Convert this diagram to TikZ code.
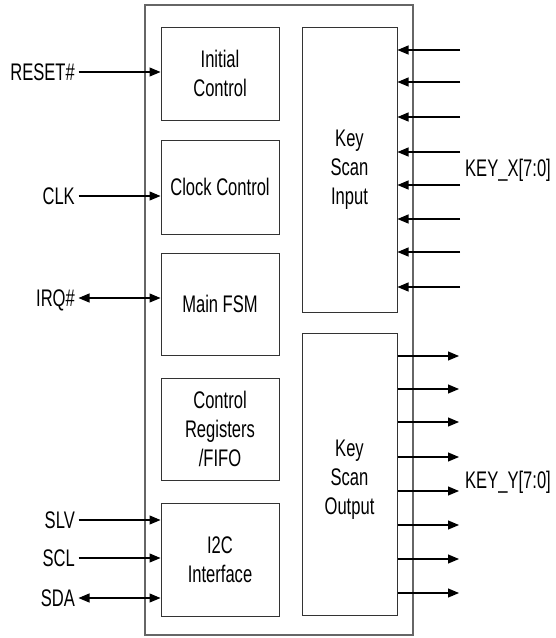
\documentclass[tikz,border=0pt]{standalone}
\usepackage{fontspec}
\setmainfont{Liberation Sans}[FakeStretch=0.69]
\usetikzlibrary{arrows.meta}
\begin{document}
\begin{tikzpicture}[x=1pt,y=-1pt,
  blk/.style={draw=black!80,line width=1pt,inner sep=0pt,align=center,font=\fontsize{24}{29}\selectfont},
  outerbox/.style={draw=black!60,line width=1.2pt,inner sep=0pt},
  lbl/.style={font=\fontsize{24}{29}\selectfont,inner sep=3.5pt,text height=17.2pt,text depth=0pt},
  arr/.style={line width=1.1pt,-{Triangle[length=11pt,width=9pt]}},
  biarr/.style={line width=1.1pt,{Triangle[length=11pt,width=9pt]}-{Triangle[length=11pt,width=9pt]}}]
\useasboundingbox (0,0) rectangle (555,638);
\node[outerbox,minimum width=268pt,minimum height=630pt] (chip) at (279,320) {};
\node[blk,minimum width=118pt,minimum height=93pt] (init) at (220,73.5) {Initial\\Control};
\node[blk,minimum width=118pt,minimum height=94pt] (clk) at (220,187) {Clock Control};
\node[blk,minimum width=118pt,minimum height=102pt] (fsm) at (220,304) {Main FSM};
\node[blk,minimum width=118pt,minimum height=102pt] (reg) at (220,429) {Control\\Registers\\/FIFO};
\node[blk,minimum width=118pt,minimum height=113pt] (i2c) at (220,559.5) {I2C\\Interface};
\node[blk,minimum width=95pt,minimum height=285pt] (ksi) at (349.5,169.5) {Key\\Scan\\Input};
\node[blk,minimum width=95pt,minimum height=282pt] (kso) at (349.5,474) {};
\node[blk,draw=none] (ksotext) at (349.5,480) {Key\\Scan\\Output};
% left signals
\node[lbl,anchor=east] (reset) at (78.5,72) {RESET\#};
\node[lbl,anchor=east] (clkin) at (78.5,196) {CLK};
\node[lbl,anchor=east] (irq) at (78.5,298) {IRQ\#};
\node[lbl,anchor=east] (slv) at (78.5,520) {SLV};
\node[lbl,anchor=east] (scl) at (78.5,558) {SCL};
\node[lbl,anchor=east] (sda) at (78.5,598) {SDA};
\draw[arr] (reset.east) -- (reset.east -| init.west);
\draw[arr] (clkin.east) -- (clkin.east -| clk.west);
\draw[biarr] (irq.east) -- (irq.east -| fsm.west);
\draw[arr] (slv.east) -- (slv.east -| i2c.west);
\draw[arr] (scl.east) -- (scl.east -| i2c.west);
\draw[biarr] (sda.east) -- (sda.east -| i2c.west);
% key x inputs
\foreach \i/\y in {1/50,2/82,3/117,4/152,5/185,6/219,7/252,8/287}{
  \coordinate (x\i) at (460,\y);
  \draw[arr] (x\i) -- (x\i -| ksi.east);
}
\node[lbl,anchor=west,inner sep=0pt] (keyx) at (465,168) {KEY\_X[7:0]};
% key y outputs
\foreach \i/\y in {1/356,2/389,3/422,4/457,5/491,6/525,7/559,8/593}{
  \coordinate (y\i) at (459,\y);
  \draw[arr] (y\i -| kso.east) -- (y\i);
}
\node[lbl,anchor=west,inner sep=0pt] (keyy) at (465,480) {KEY\_Y[7:0]};
\end{tikzpicture}
\end{document}
